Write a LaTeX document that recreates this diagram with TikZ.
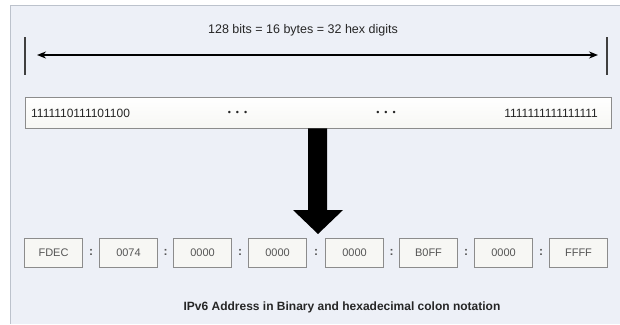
\documentclass[tikz,border=0pt]{standalone}
\usepackage{fontspec}
\setmainfont{Liberation Sans}
\usetikzlibrary{arrows.meta,calc}
\definecolor{bgc}{HTML}{EDF0F7}
\definecolor{framec}{HTML}{BCC2CC}
\definecolor{boxborder}{HTML}{8C8C8C}
\definecolor{boxfill}{HTML}{F7F7F4}
\definecolor{txtc}{HTML}{262626}
\definecolor{hexc}{HTML}{555555}
\tikzset{
  hexbox/.style={draw=boxborder, fill=boxfill, line width=0.9pt, minimum width=58pt, minimum height=29pt, inner sep=0pt, text=hexc, font=\fontsize{11}{12}\selectfont},
  colonmark/.style={inner sep=0pt, text=hexc, font=\bfseries\fontsize{12}{12}\selectfont},
  tickbar/.style={fill=black!75, draw=none, minimum width=2.6pt, minimum height=38pt, inner sep=0pt},
  bintext/.style={inner sep=0pt, text=txtc, font=\fontsize{12}{12}\selectfont},
  dotstext/.style={inner sep=0pt, text=txtc, font=\fontsize{9}{10}\selectfont},
}
\begin{document}
\begin{tikzpicture}[x=1pt,y=-1pt]
\useasboundingbox (0,0) rectangle (620,324);
\fill[white] (0,0) rectangle (620,324);
\fill[bgc] (10,5) rectangle (620,324);
\draw[framec, line width=1pt] (10,324) -- (10,5) -- (620,5);
% title
\node[inner sep=0pt, text=txtc, font=\fontsize{12.5}{13}\selectfont] (title) at (303,30) {128 bits = 16 bytes = 32 hex digits};
% ticks and span arrow
\node[tickbar] (tickL) at (25,56) {};
\node[tickbar] (tickR) at (607,56) {};
\coordinate (aL) at ([yshift=1pt]tickL.center);
\coordinate (aR) at ([yshift=1pt]tickR.center);
\draw[black, line width=1.5pt, {Stealth[length=9pt,width=7pt]}-{Stealth[length=9pt,width=7pt]}, shorten <=12pt, shorten >=9pt] (aL) -- (aR);
% binary box
\node[draw=boxborder, line width=0.9pt, top color=white, bottom color=boxfill, minimum width=586pt, minimum height=31pt, inner sep=0pt] (bin) at (318,112.5) {};
\node[bintext, anchor=west] (b1) at (31,113.5) {1111110111101100};
\node[dotstext] (d1) at (237.5,113) {•~~•~~•};
\node[dotstext] (d2) at (386,113) {•~~•~~•};
\node[bintext, anchor=east] (b2) at (598,113.5) {1111111111111111};
% hex boxes
\node[hexbox] (h1) at (53.5,252.5) {FDEC};
\node[hexbox] (h2) at (128.5,252.5) {0074};
\node[hexbox] (h3) at (202.5,252.5) {0000};
\node[hexbox] (h4) at (277.5,252.5) {0000};
\node[hexbox] (h5) at (354.5,252.5) {0000};
\node[hexbox] (h6) at (428.5,252.5) {B0FF};
\node[hexbox] (h7) at (503.5,252.5) {0000};
\node[hexbox] (h8) at (578.5,252.5) {FFFF};
\foreach \a/\b/\n in {h1/h2/c1,h2/h3/c2,h3/h4/c3,h4/h5/c4,h5/h6/c5,h6/h7/c6,h7/h8/c7}{
  \node[colonmark] (\n) at ($(\a.east)!0.5!(\b.west)$) {:};
}
% big arrow
\coordinate (tip) at (318,234);
\fill[black] ([xshift=-10pt]bin.south) -- ([xshift=9pt]bin.south) -- ([xshift=9pt]bin.south |- 0,210) -- (343,210) -- (tip) -- (293,210) -- ([xshift=-10pt]bin.south |- 0,210) -- cycle;
% caption
\node[inner sep=0pt, text=txtc, font=\bfseries\fontsize{12}{13}\selectfont] (cap) at (342,307) {IPv6 Address in Binary and hexadecimal colon notation};
\end{tikzpicture}
\end{document}
